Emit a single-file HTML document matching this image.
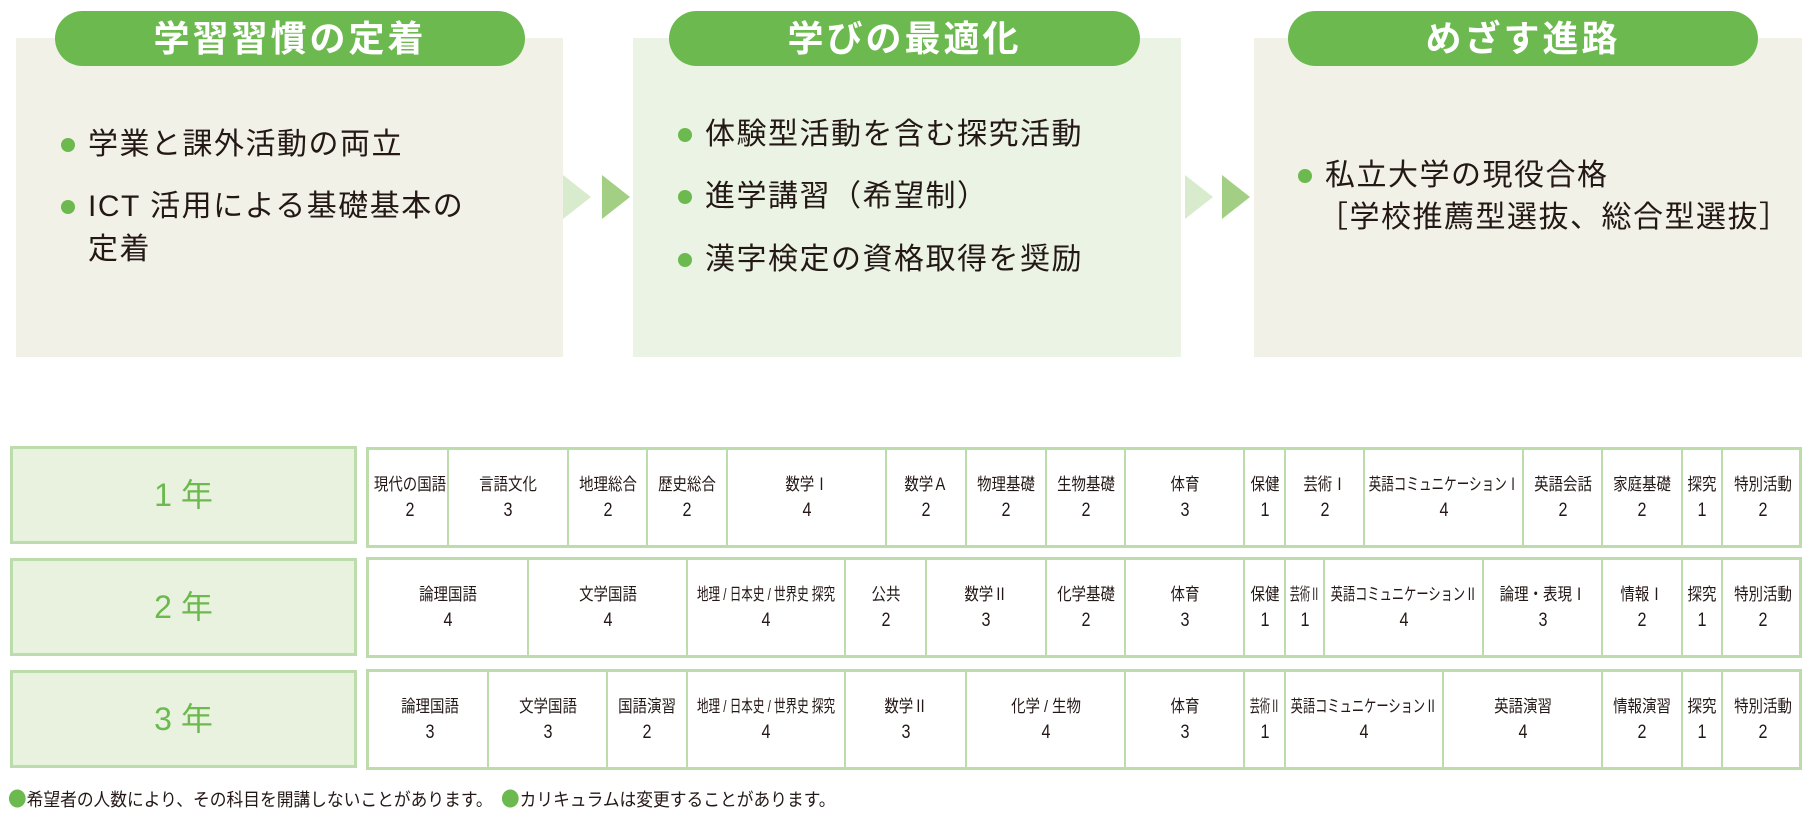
<!DOCTYPE html>
<html><head><meta charset="utf-8">
<style>
*{margin:0;padding:0;box-sizing:border-box}
body{width:1811px;height:816px;background:#fff;position:relative;overflow:hidden;font-family:"Liberation Sans","Noto Sans CJK JP",sans-serif;color:#231815}
.a{position:absolute}
.panel{position:absolute;top:38px;height:319px}
.pill{position:absolute;top:11px;height:55px;background:#6cb94f;border-radius:28px;color:#fff;font-weight:bold;font-size:36px;text-align:center;line-height:55px;letter-spacing:3px}
.bl{position:absolute;font-size:30px;line-height:40px;white-space:nowrap;letter-spacing:1.5px}
.dot{position:absolute;width:14px;height:14px;border-radius:50%;background:#6cb94f}
.yr{position:absolute;left:10px;width:347px;height:98px;background:#e8f2de;border:3px solid #bcdcab;color:#6cb94f;font-size:32px;text-align:center;line-height:92px}
.row{position:absolute;left:366px;width:1436px;height:101px;border:3px solid #bcdcab;background:#fff}
.c{position:absolute;top:0;height:95px;border-left:2px solid #bcdcab;text-align:center;font-size:17px;white-space:nowrap;overflow:visible}
.c span{display:block;position:absolute;left:50%;transform:translateX(-50%) scaleX(.85);line-height:20px}
.c .s{top:25px}.c .n{top:51px;font-size:19px}
.fd{color:#6cb94f;font-family:"Noto Sans CJK JP",sans-serif;font-size:20px}
</style></head><body>

<div class="panel" style="left:16px;width:547px;background:#f2f1e7"></div>
<div class="panel" style="left:633px;width:548px;background:#ebf3e4"></div>
<div class="panel" style="left:1254px;width:548px;background:#f2f1e7"></div>
<div class="pill" style="left:55px;width:470px">学習習慣の定着</div>
<div class="pill" style="left:669px;width:471px">学びの最適化</div>
<div class="pill" style="left:1288px;width:470px">めざす進路</div>

<svg class="a" style="left:0;top:0" width="1811" height="400">
<polygon points="563,175 591,197 563,219" fill="#d9ebcd"/>
<polygon points="602,175 630,197 602,219" fill="#a3cf85"/>
<polygon points="1185,175 1213,197 1185,219" fill="#d9ebcd"/>
<polygon points="1222,175 1250,197 1222,219" fill="#a3cf85"/>
</svg>

<div class="dot" style="left:61px;top:138px"></div><div class="bl" style="left:88px;top:125px">学業と課外活動の両立</div>
<div class="dot" style="left:61px;top:200px"></div><div class="bl" style="left:88px;top:187px">ICT 活用による基礎基本の</div>
<div class="bl" style="left:88px;top:230px">定着</div>

<div class="dot" style="left:678px;top:128px"></div><div class="bl" style="left:705px;top:115px">体験型活動を含む探究活動</div>
<div class="dot" style="left:678px;top:190px"></div><div class="bl" style="left:705px;top:177px">進学講習（希望制）</div>
<div class="dot" style="left:678px;top:253px"></div><div class="bl" style="left:705px;top:240px">漢字検定の資格取得を奨励</div>

<div class="dot" style="left:1298px;top:169px"></div><div class="bl" style="left:1325px;top:156px">私立大学の現役合格</div>
<div class="bl" style="left:1318px;top:198px">［学校推薦型選抜、総合型選抜］</div>

<div class="yr" style="top:446px">1 年</div>
<div class="yr" style="top:558px">2 年</div>
<div class="yr" style="top:670px">3 年</div>

<div class="row" style="top:447px">
<div class="c" style="left:0;width:81px;border-left:none"><span class="s">現代の国語</span><span class="n">2</span></div>
<div class="c" style="left:78px;width:120px"><span class="s">言語文化</span><span class="n">3</span></div>
<div class="c" style="left:198px;width:79px"><span class="s">地理総合</span><span class="n">2</span></div>
<div class="c" style="left:277px;width:80px"><span class="s">歴史総合</span><span class="n">2</span></div>
<div class="c" style="left:357px;width:159px"><span class="s">数学Ⅰ</span><span class="n">4</span></div>
<div class="c" style="left:516px;width:80px"><span class="s">数学Ａ</span><span class="n">2</span></div>
<div class="c" style="left:596px;width:80px"><span class="s">物理基礎</span><span class="n">2</span></div>
<div class="c" style="left:676px;width:79px"><span class="s">生物基礎</span><span class="n">2</span></div>
<div class="c" style="left:755px;width:119px"><span class="s">体育</span><span class="n">3</span></div>
<div class="c" style="left:874px;width:41px"><span class="s">保健</span><span class="n">1</span></div>
<div class="c" style="left:915px;width:79px"><span class="s">芸術Ⅰ</span><span class="n">2</span></div>
<div class="c" style="left:994px;width:159px"><span class="s" style="transform:translateX(-50%) scaleX(.74)">英語コミュニケーションⅠ</span><span class="n">4</span></div>
<div class="c" style="left:1153px;width:79px"><span class="s">英語会話</span><span class="n">2</span></div>
<div class="c" style="left:1232px;width:80px"><span class="s">家庭基礎</span><span class="n">2</span></div>
<div class="c" style="left:1312px;width:40px"><span class="s">探究</span><span class="n">1</span></div>
<div class="c" style="left:1352px;width:81px"><span class="s">特別活動</span><span class="n">2</span></div>
</div>

<div class="row" style="top:557px">
<div class="c" style="left:0;width:158px;border-left:none"><span class="s">論理国語</span><span class="n">4</span></div>
<div class="c" style="left:158px;width:159px"><span class="s">文学国語</span><span class="n">4</span></div>
<div class="c" style="left:317px;width:158px"><span class="s" style="transform:translateX(-50%) scaleX(.68)">地理 / 日本史 / 世界史 探究</span><span class="n">4</span></div>
<div class="c" style="left:475px;width:81px"><span class="s">公共</span><span class="n">2</span></div>
<div class="c" style="left:556px;width:120px"><span class="s">数学Ⅱ</span><span class="n">3</span></div>
<div class="c" style="left:676px;width:79px"><span class="s">化学基礎</span><span class="n">2</span></div>
<div class="c" style="left:755px;width:119px"><span class="s">体育</span><span class="n">3</span></div>
<div class="c" style="left:874px;width:41px"><span class="s">保健</span><span class="n">1</span></div>
<div class="c" style="left:915px;width:39px"><span class="s" style="transform:translateX(-50%) scaleX(.6)">芸術Ⅱ</span><span class="n">1</span></div>
<div class="c" style="left:954px;width:159px"><span class="s" style="transform:translateX(-50%) scaleX(.72)">英語コミュニケーションⅡ</span><span class="n">4</span></div>
<div class="c" style="left:1113px;width:119px"><span class="s">論理・表現Ⅰ</span><span class="n">3</span></div>
<div class="c" style="left:1232px;width:80px"><span class="s">情報Ⅰ</span><span class="n">2</span></div>
<div class="c" style="left:1312px;width:40px"><span class="s">探究</span><span class="n">1</span></div>
<div class="c" style="left:1352px;width:81px"><span class="s">特別活動</span><span class="n">2</span></div>
</div>

<div class="row" style="top:669px">
<div class="c" style="left:0;width:121px;border-left:none"><span class="s">論理国語</span><span class="n">3</span></div>
<div class="c" style="left:118px;width:119px"><span class="s">文学国語</span><span class="n">3</span></div>
<div class="c" style="left:237px;width:80px"><span class="s">国語演習</span><span class="n">2</span></div>
<div class="c" style="left:317px;width:158px"><span class="s" style="transform:translateX(-50%) scaleX(.68)">地理 / 日本史 / 世界史 探究</span><span class="n">4</span></div>
<div class="c" style="left:475px;width:121px"><span class="s">数学Ⅱ</span><span class="n">3</span></div>
<div class="c" style="left:596px;width:159px"><span class="s">化学 / 生物</span><span class="n">4</span></div>
<div class="c" style="left:755px;width:119px"><span class="s">体育</span><span class="n">3</span></div>
<div class="c" style="left:874px;width:41px"><span class="s" style="transform:translateX(-50%) scaleX(.6)">芸術Ⅱ</span><span class="n">1</span></div>
<div class="c" style="left:915px;width:158px"><span class="s" style="transform:translateX(-50%) scaleX(.72)">英語コミュニケーションⅡ</span><span class="n">4</span></div>
<div class="c" style="left:1073px;width:159px"><span class="s">英語演習</span><span class="n">4</span></div>
<div class="c" style="left:1232px;width:80px"><span class="s">情報演習</span><span class="n">2</span></div>
<div class="c" style="left:1312px;width:40px"><span class="s">探究</span><span class="n">1</span></div>
<div class="c" style="left:1352px;width:81px"><span class="s">特別活動</span><span class="n">2</span></div>
</div>

<div class="a" style="left:8px;top:783px;font-size:18px;white-space:nowrap;transform-origin:0 0;transform:scaleX(.93)"><span class="fd">●</span>希望者の人数により、その科目を開講しないことがあります。　<span class="fd">●</span>カリキュラムは変更することがあります。</div>
</body></html>
